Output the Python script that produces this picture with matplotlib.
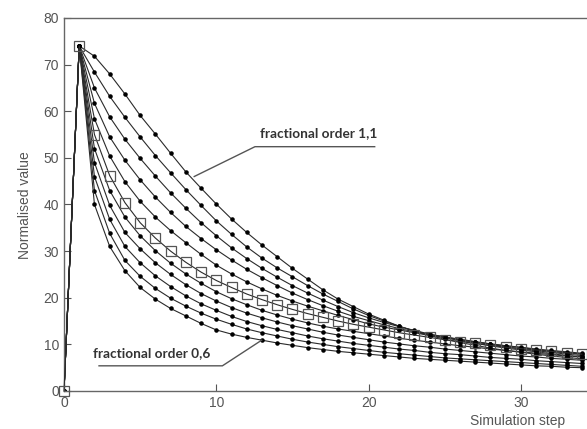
import matplotlib

matplotlib.use("Agg")
import matplotlib.pyplot as plt

# simulation steps 0..34, one curve per fractional order
steps = list(range(35))

order_110 = [0, 74, 71.8, 68, 63.7, 59.1, 55.1, 51, 47, 43.5, 40.1, 36.9, 34, 31.3, 28.8, 26.3, 24, 21.7,
             19.7, 18.1, 16.5, 15.2, 13.9, 12.8, 11.9, 11.1, 10.4, 9.8, 9.2, 8.7, 8.3, 7.9, 7.5, 7.2, 6.9]
order_105 = [0, 74, 68.4, 63.2, 58.7, 54.5, 50.5, 46.8, 43.2, 39.8, 36.5, 33.6, 30.9, 28.5, 26.4, 24.5, 22.6,
             20.8, 19.2, 17.6, 16.2, 15.0, 13.9, 12.9, 12.1, 11.5, 10.8, 10.2, 9.7, 9.2, 8.8, 8.4, 8.0, 7.6, 7.3]
order_100 = [0, 74, 65, 58.8, 54, 49.9, 46.1, 42.5, 39.2, 36.1, 33.3, 30.7, 28.4, 26.3, 24.4, 22.6, 21.0,
             19.5, 18.1, 16.8, 15.7, 14.7, 13.8, 13.0, 12.2, 11.6, 11.0, 10.5, 10.0, 9.5, 9.0, 8.6, 8.3, 7.9, 7.6]
order_095 = [0, 74, 61.7, 54.5, 49.5, 45.3, 41.6, 38.3, 35.3, 32.7, 30.3, 28.1, 26.1, 24.3, 22.6, 21.0, 19.6,
             18.3, 17.1, 16.0, 15.1, 14.2, 13.4, 12.7, 12.1, 11.6, 11.1, 10.6, 10.1, 9.7, 9.3, 8.9, 8.5, 8.2, 7.9]
order_090 = [0, 74, 58.4, 50.4, 44.9, 40.7, 37.3, 34.4, 31.8, 29.3, 27.0, 25.1, 23.4, 21.9, 20.5, 19.3, 18.2,
             17.2, 16.2, 15.3, 14.4, 13.7, 13.1, 12.5, 11.9, 11.4, 10.9, 10.5, 10.1, 9.7, 9.4, 9.0, 8.7, 8.4, 8.1]
order_085 = [0, 74, 55, 46.2, 40.4, 36.1, 32.8, 30.0, 27.6, 25.5, 23.7, 22.2, 20.8, 19.6, 18.5, 17.5, 16.6,
             15.8, 15.0, 14.3, 13.7, 13.1, 12.5, 12.0, 11.5, 11.0, 10.6, 10.2, 9.8, 9.4, 9.1, 8.8, 8.5, 8.2, 7.9]
order_080 = [0, 74, 52, 43, 37.3, 33.3, 30.1, 27.4, 25.1, 23.1, 21.3, 19.8, 18.5, 17.3, 16.3, 15.4, 14.6,
             13.9, 13.3, 12.8, 12.3, 11.8, 11.3, 10.9, 10.5, 10.1, 9.7, 9.4, 9.0, 8.7, 8.4, 8.1, 7.8, 7.5, 7.3]
order_075 = [0, 74, 49, 39.8, 34.0, 30.5, 27.5, 25.0, 22.8, 20.9, 19.3, 17.9, 16.7, 15.7, 14.8, 14.0, 13.3,
             12.6, 12.0, 11.5, 11.0, 10.5, 10.1, 9.7, 9.4, 9.0, 8.7, 8.4, 8.1, 7.8, 7.5, 7.3, 7.0, 6.8, 6.6]
order_070 = [0, 74, 46, 36.8, 31.0, 27.5, 24.7, 22.4, 20.4, 18.7, 17.3, 16.0, 14.9, 14.0, 13.2, 12.5, 11.8,
             11.2, 10.7, 10.2, 9.8, 9.4, 9.0, 8.7, 8.3, 8.0, 7.8, 7.5, 7.2, 7.0, 6.8, 6.5, 6.3, 6.1, 5.9]
order_065 = [0, 74, 43, 33.8, 28.0, 24.6, 22.0, 19.9, 18.2, 16.7, 15.4, 14.3, 13.3, 12.5, 11.8, 11.1, 10.5,
             10.0, 9.5, 9.1, 8.7, 8.3, 8.0, 7.7, 7.4, 7.1, 6.9, 6.7, 6.5, 6.3, 6.1, 5.9, 5.7, 5.5, 5.3]
order_060 = [0, 74, 40, 31.0, 25.8, 22.2, 19.7, 17.7, 16.1, 14.5, 13.1, 12.2, 11.5, 10.9, 10.3, 9.8, 9.3,
             8.9, 8.5, 8.2, 7.9, 7.6, 7.3, 7.0, 6.8, 6.6, 6.4, 6.2, 6.0, 5.8, 5.6, 5.4, 5.3, 5.1, 5.0]

dot_curves = [order_110, order_105, order_100, order_095, order_090,
              order_080, order_075, order_070, order_065, order_060]
square_curve = order_085

label_top = "fractional order 1,1"
label_bottom = "fractional order 0,6"

fig = plt.figure(figsize=(5.87, 4.29), dpi=100)
ax = fig.add_axes([64 / 587, 38 / 429, 523 / 587, 373 / 429])

for ys in dot_curves:
    ax.plot(steps, ys, color="#2a2a2a", lw=0.8, marker=".", ms=4.5, mfc="black", mec="black")
ax.plot(steps, square_curve, color="#2a2a2a", lw=0.8, marker="s", ms=6.5, mfc="none",
        mec="#555555", mew=0.9, clip_on=False, zorder=3)

ax.set_xlim(0, 34.34)
ax.set_ylim(0, 80)
ax.set_xticks([0, 10, 20, 30])
ax.set_yticks(range(0, 81, 10))
ax.tick_params(direction="in", length=5, width=0.8, colors="#555555", labelsize=10,
               labelcolor="#555555")
for side in ("left", "bottom", "top"):
    ax.spines[side].set_color("#666666")
    ax.spines[side].set_linewidth(1.0)
ax.spines["right"].set_visible(False)
for lab in ax.get_xticklabels() + ax.get_yticklabels():
    lab.set_family("Liberation Sans")

fig.text(25 / 587, 1 - 205 / 429, "Normalised value", rotation=90, ha="center", va="center",
         fontsize=10, color="#555555", family="Liberation Sans")
fig.text(518 / 587, 1 - 421 / 429, "Simulation step", ha="center", va="center",
         fontsize=10, color="#555555", family="Liberation Sans")

# annotation callouts: text, underline, leader to the curve
ax.text(12.87, 55.4, label_top, fontsize=9.8, fontweight="bold", color="#333333", family="Lato",
        va="center", ha="left")
ax.plot([8.55, 12.54, 20.4], [46, 52.4, 52.4], color="#555555", lw=1.0)
ax.text(1.9, 8.15, label_bottom, fontsize=9.8, fontweight="bold", color="#333333", family="Lato",
        va="center", ha="left")
ax.plot([2.3, 10.4, 12.98], [5.4, 5.4, 10.9], color="#555555", lw=1.0)

fig.savefig("out.png", dpi=100)
